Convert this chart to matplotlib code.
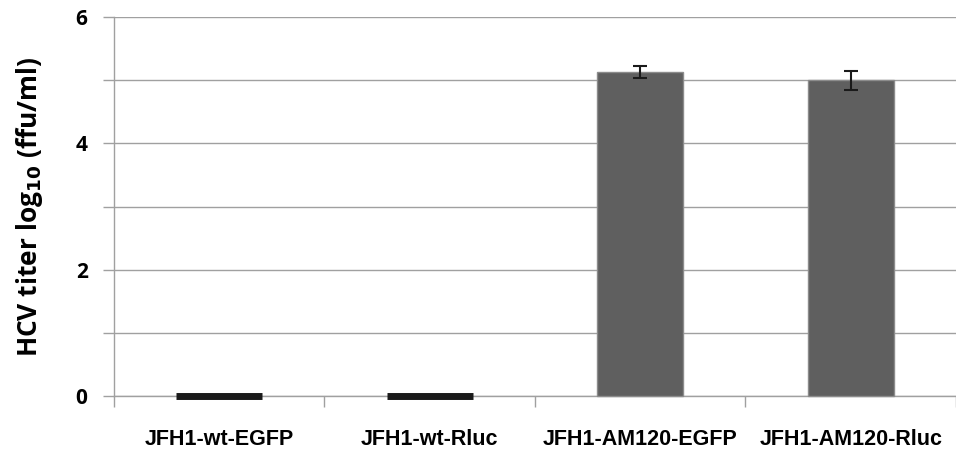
import matplotlib.pyplot as plt
import numpy as np

plt.rcParams['font.family'] = ['Liberation Sans', 'DejaVu Sans']
plt.rcParams['font.weight'] = 'bold'

labels = ['JFH1-wt-EGFP', 'JFH1-wt-Rluc', 'JFH1-AM120-EGFP', 'JFH1-AM120-Rluc']
titer = [0.0, 0.0, 5.13, 5.0]
err = [0.0, 0.0, 0.1, 0.15]

fig = plt.figure(figsize=(9.56, 4.5), dpi=100)
ax = fig.add_axes([0.1192, 0.12, 0.8808, 0.8422])

x = np.arange(len(labels))
edge = ['#1a1a1a' if v == 0 else '#8c8c8c' for v in titer]
lw = [5 if v == 0 else 1.0 for v in titer]
bars = ax.bar(x, titer, width=0.41, color='#5f5f5f', edgecolor=edge, linewidth=lw, zorder=3)
for b in bars:
    b.set_clip_on(False)
yerr = np.array(err)
mask = yerr > 0
ax.errorbar(x[mask], np.array(titer)[mask], yerr=yerr[mask], fmt='none',
            ecolor='#1a1a1a', elinewidth=1.5, capsize=5, capthick=1.5, zorder=4)

ax.set_xlim(-0.5, len(labels) - 0.5)
ax.set_ylim(0, 6)
ax.set_yticks(range(0, 7))
ax.set_yticklabels([str(v) if v % 2 == 0 else '' for v in range(0, 7)],
                   fontsize=15, fontweight='bold', family='Open Sans')
ax.yaxis.grid(True, color='#a0a0a0', linewidth=1.0, zorder=0)
ax.set_axisbelow(True)

# category ticks sit on the boundaries between groups
ax.set_xticks(np.arange(-0.5, len(labels)), minor=False)
ax.set_xticklabels([''] * (len(labels) + 1))
ax.set_xticks(x, minor=True)
ax.set_xticklabels(labels, minor=True, fontsize=15.5, fontweight='bold')
ax.tick_params(axis='x', which='minor', length=0, pad=24)
ax.tick_params(axis='x', which='major', length=8, color='#a0a0a0', width=1)
ax.tick_params(axis='y', length=8, color='#a0a0a0', width=1, pad=11)

for s in ['top', 'right']:
    ax.spines[s].set_visible(False)
for s in ['left', 'bottom']:
    ax.spines[s].set_color('#a0a0a0')
    ax.spines[s].set_linewidth(1.0)

ax.set_ylabel('HCV titer log$_{\\mathbf{10}}$ (ffu/ml)', fontsize=19, fontweight='bold',
              family='Open Sans', labelpad=22)

fig.savefig('out.png', dpi=100)
